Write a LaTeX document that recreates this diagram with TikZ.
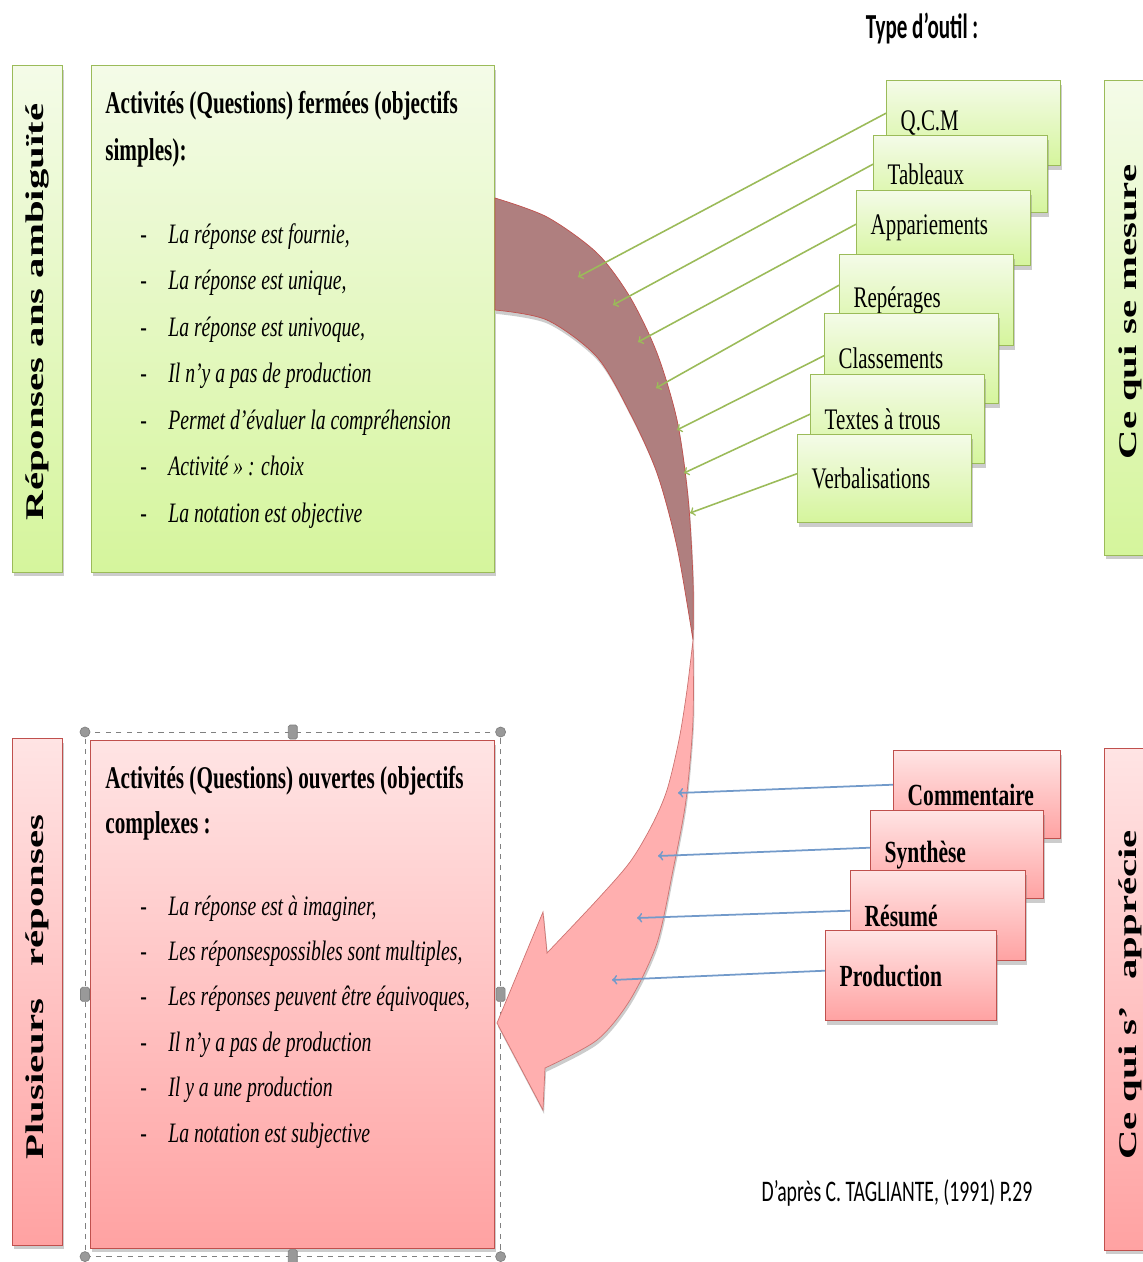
\documentclass[tikz,border=0pt]{standalone}
\usepackage{fontspec}
\setmainfont{Liberation Serif}
\newfontfamily\narrowfont[FakeStretch=0.67]{Liberation Serif}
\newfontfamily\itemfont[FakeStretch=0.7]{Liberation Serif}
\newfontfamily\toolfont[FakeStretch=0.7]{Liberation Serif}
\newfontfamily\sidefont[FakeStretch=1.6]{Liberation Serif}
\newfontfamily\narrowsans[FakeStretch=0.6]{Carlito}
\newfontfamily\sourcefont[FakeStretch=0.66]{Carlito}
\usetikzlibrary{shadows,arrows}

\definecolor{gtop}{HTML}{F4FBE8}
\definecolor{gbot}{HTML}{D5F59C}
\definecolor{gline}{HTML}{9BBB59}
\definecolor{rtop}{HTML}{FFE4E4}
\definecolor{rbot}{HTML}{FFA2A2}
\definecolor{rline}{HTML}{C0504D}
\definecolor{backred}{HTML}{AF7F7F}
\definecolor{frontred}{HTML}{FFAFAF}
\definecolor{bline}{HTML}{4F81BD}

\newcommand{\toollabel}[2]{\makebox[#1][l]{#2}}

\tikzstyle{shade} = [drop shadow={shadow xshift=0.6pt, shadow yshift=-2.2pt, opacity=0.4}]
\tikzstyle{greenbox} = [rectangle, draw=gline, line width=0.8pt, top color=gtop, bottom color=gbot, shade, anchor=north west]
\tikzstyle{redbox} = [rectangle, draw=rline, line width=0.8pt, top color=rtop, bottom color=rbot, shade, anchor=north west]
\tikzstyle{tool} = [inner xsep=0.28cm, inner ysep=0pt, font=\toolfont\fontsize{17}{19}\selectfont]
\tikzstyle{side} = [rotate=90, inner sep=0pt, font=\sidefont\bfseries\fontsize{14.5}{16}\selectfont]
\tikzstyle{head} = [anchor=base west, inner sep=0pt, font=\narrowfont\bfseries\fontsize{18}{22}\selectfont]
\tikzstyle{item} = [anchor=base west, inner sep=0pt, font=\itemfont\itshape\fontsize{16}{18}\selectfont]
\tikzstyle{garrow} = [draw=gline, line width=0.9pt, ->]
\tikzstyle{barrow} = [draw=bline!80, line width=1pt, ->]
\tikzstyle{handle} = [rectangle, rounded corners=1pt, fill=gray!80, draw=gray, minimum width=0.18cm, minimum height=0.28cm, inner sep=0pt]
\tikzstyle{chandle} = [circle, fill=gray!80, draw=gray, minimum size=0.2cm, inner sep=0pt]

\begin{document}
\begin{tikzpicture}[x=0.02cm, y=-0.02cm]
    \clip (0,0) rectangle (1143,1262);

    % titre
    \node (type) [font=\narrowsans\bfseries\fontsize{20}{22}\selectfont] at (922,28) {Type d’outil :};

    % colonnes laterales
    \node (ambig) [greenbox, minimum width=1cm, minimum height=10.14cm] at (12,65) {};
    \node (ambigT) [side] at (37,312) {Réponses ans ambiguïté};
    \node (plus) [redbox, minimum width=1cm, minimum height=10.14cm] at (12,738) {};
    \node (plusT) [side] at (37,987) {\hbox to 6.9cm{Plusieurs\hfill réponses}};
    \node (mesure) [greenbox, minimum width=1.3cm, minimum height=9.5cm] at (1104,80) {};
    \node (mesureT) [side] at (1130,312) {Ce qui se mesure};
    \node (apprec) [redbox, minimum width=1.3cm, minimum height=10.04cm] at (1104,748) {};
    \node (apprecT) [side] at (1130,995) {\hbox to 6.6cm{Ce qui s’\hfill apprécie}};

    % activites fermees
    \node (ferm) [greenbox, minimum width=8.06cm, minimum height=10.14cm] at (91,65) {};
    \node (fermT1) [head] at (105,113) {Activités (Questions) fermées (objectifs};
    \node (fermT2) [head] at (105,160) {simples):};
    \foreach \txt [count=\i] in {{La réponse est fournie,}, {La réponse est unique,}, {La réponse est univoque,}, {Il n’y a pas de production}, {Permet d’évaluer la compréhension}, {Activité » : choix}, {La notation est objective}}
        \node (f\i) [item] at (140,243+46.5*\i-46.5) {\makebox[0.56cm][l]{\upshape -}\txt};

    % activites ouvertes
    \node (sel) [draw=gray, dashed, minimum width=8.3cm, minimum height=10.48cm, anchor=north west] at (85,732) {};
    \node (ouv) [redbox, minimum width=8.08cm, minimum height=10.16cm] at (90,740) {};
    \node (ouvT1) [head] at (105,788) {Activités (Questions) ouvertes (objectifs};
    \node (ouvT2) [head] at (105,833) {complexes :};
    \foreach \txt [count=\i] in {{La réponse est à imaginer,}, {Les réponsespossibles sont multiples,}, {Les réponses peuvent être équivoques,}, {Il n’y a pas de production}, {Il y a une production}, {La notation est subjective}}
        \node (o\i) [item] at (140,915+45.4*\i-45.4) {\makebox[0.56cm][l]{\upshape -}\txt};
    \node (h1) [chandle] at (sel.north west) {};
    \node (h2) [handle] at (sel.north) {};
    \node (h3) [chandle] at (sel.north east) {};
    \node (h4) [handle] at (sel.west) {};
    \node (h5) [handle] at (sel.east) {};
    \node (h6) [chandle] at (sel.south west) {};
    \node (h7) [handle] at (sel.south) {};
    \node (h8) [chandle] at (sel.south east) {};

    % fleche courbe
    \filldraw[fill=backred, draw=rline, shade] plot[smooth] coordinates {(495,198) (547,217) (597,253) (630,297) (657,353) (677,420) (688,497) (693,580) (693,640)}
        -- plot[smooth] coordinates {(693,640) (677,547) (657,473) (630,413) (597,357) (547,320) (495,310)} -- cycle;
    \filldraw[fill=frontred, draw=rline!80, shade] plot[smooth] coordinates {(693,640) (687,690) (679,740) (667,790) (652,825) (630,862) (597,900) (547,953)}
        -- (543,912) -- (497,1023) -- (543,1110)
        -- plot[smooth] coordinates {(545,1068) (597,1040) (630,1000) (657,943) (673,870) (686,800) (693,720) (693,640)} -- cycle;

    % outils fermes
    \node (QCM) [greenbox, tool, minimum height=1.7cm] at (886,80) {\toollabel{2.92cm}{Q.C.M}};
    \node (Tab) [greenbox, tool, minimum height=1.54cm] at (873,135) {\toollabel{2.92cm}{Tableaux}};
    \node (App) [greenbox, tool, minimum height=1.5cm] at (856,190) {\toollabel{2.92cm}{Appariements}};
    \node (Rep) [greenbox, tool, minimum height=1.82cm] at (839,254) {\toollabel{2.92cm}{Repérages}};
    \node (Cla) [greenbox, tool, minimum height=1.8cm] at (824,313) {\toollabel{2.92cm}{Classements}};
    \node (Tex) [greenbox, tool, minimum height=1.78cm] at (810,374) {\toollabel{2.92cm}{Textes à trous}};
    \node (Ver) [greenbox, tool, minimum height=1.76cm] at (797,434) {\toollabel{2.92cm}{Verbalisations}};

    \coordinate (g1) at (578,277);
    \coordinate (g2) at (613,305);
    \coordinate (g3) at (638,342);
    \coordinate (g4) at (656,388);
    \coordinate (g5) at (677,430);
    \coordinate (g6) at (684,473);
    \coordinate (g7) at (690,513);
    \draw[garrow] ([yshift=0.2cm]QCM.west) -- (g1);
    \draw[garrow] ([yshift=0.2cm]Tab.west) -- (g2);
    \draw[garrow] ([yshift=0.08cm]App.west) -- (g3);
    \draw[garrow] ([yshift=0.3cm]Rep.west) -- (g4);
    \draw[garrow] ([yshift=0.06cm]Cla.west) -- (g5);
    \draw[garrow] ([yshift=0.1cm]Tex.west) -- (g6);
    \draw[garrow] ([yshift=0.1cm]Ver.west) -- (g7);

    % outils ouverts
    \node (Com) [redbox, tool, font=\toolfont\bfseries\fontsize{17.5}{19}\selectfont, minimum height=1.76cm] at (893,750) {\toollabel{2.78cm}{Commentaire}};
    \node (Syn) [redbox, tool, font=\toolfont\bfseries\fontsize{17.5}{19}\selectfont, minimum height=1.76cm] at (870,810) {\toollabel{2.9cm}{Synthèse}};
    \node (Res) [redbox, tool, font=\toolfont\bfseries\fontsize{17.5}{19}\selectfont, minimum height=1.8cm] at (850,870) {\toollabel{2.94cm}{Résumé}};
    \node (Pro) [redbox, tool, font=\toolfont\bfseries\fontsize{17.5}{19}\selectfont, minimum height=1.8cm] at (825,930) {\toollabel{2.86cm}{Production}};

    \coordinate (b1) at (678,793);
    \coordinate (b2) at (658,856);
    \coordinate (b3) at (637,918);
    \coordinate (b4) at (612,980);
    \draw[barrow] ([yshift=0.2cm]Com.west) -- (b1);
    \draw[barrow] ([yshift=0.14cm]Syn.west) -- (b2);
    \draw[barrow] ([yshift=0.1cm]Res.west) -- (b3);
    \draw[barrow] ([yshift=0.1cm]Pro.west) -- (b4);

    \node (src) [font=\sourcefont\fontsize{17}{20}\selectfont] at (897,1193) {D’après C. TAGLIANTE, (1991) P.29};
\end{tikzpicture}
\end{document}
